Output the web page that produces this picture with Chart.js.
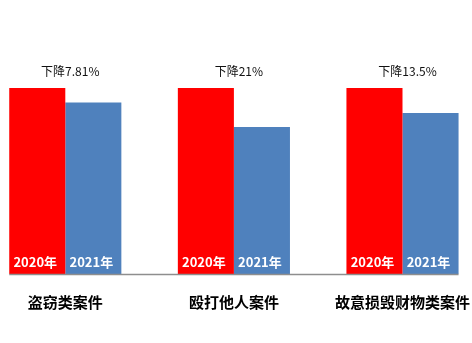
<!DOCTYPE html>
<html>
<head>
<meta charset="utf-8">
<script src="https://cdn.jsdelivr.net/npm/chart.js@4/dist/chart.umd.min.js"></script>
<style>
  html, body { margin: 0; padding: 0; background: #ffffff; overflow: hidden; }
  body { width: 472px; height: 343px; position: relative; }
  #wrap { position: absolute; left: -19px; top: 0; width: 508px; height: 343px; }
</style>
</head>
<body>
<div id="wrap"><canvas id="chart" width="508" height="343"></canvas></div>
<script>
// Case categories along the x axis
const categories = ['盗窃类案件', '殴打他人案件', '故意损毁财物类案件'];
// Series names, printed inside the foot of each bar
const seriesNames = ['2020年', '2021年'];
// Case counts indexed to 2020 = 100
const values2020 = [100, 100, 100];
const values2021 = [92.19, 79, 86.5];
// Year-on-year decrease, in percent
const drops = [7.81, 21, 13.5];
const dropLabels = ['下降7.81%', '下降21%', '下降13.5%'];

const CJK = '"Noto Sans CJK SC", "Noto Sans", sans-serif';

// Draws the baseline, the year names inside the bars and the decrease notes
const annotate = {
  id: 'annotate',
  afterDatasetsDraw(chart) {
    const ctx = chart.ctx;
    const x = chart.scales.x, y = chart.scales.y;
    const m0 = chart.getDatasetMeta(0).data;
    const m1 = chart.getDatasetMeta(1).data;
    const base = y.getPixelForValue(0);

    ctx.save();
    // baseline across the bar groups
    const left = m0[0].x - m0[0].width / 2;
    const lastBar = m1[m1.length - 1];
    const right = lastBar.x + lastBar.width / 2;
    ctx.strokeStyle = '#8e8e8e';
    ctx.lineWidth = 1.5;
    ctx.beginPath();
    ctx.moveTo(left, Math.round(base) + 0.5);
    ctx.lineTo(right, Math.round(base) + 0.5);
    ctx.stroke();

    // series names inside the bars
    ctx.fillStyle = '#ffffff';
    ctx.font = 'bold 13px ' + CJK;
    ctx.textAlign = 'center';
    ctx.textBaseline = 'middle';
    [m0, m1].forEach((bars, d) => {
      bars.forEach(bar => {
        ctx.fillText(seriesNames[d], bar.x - 2, base - 12);
      });
    });

    // decrease notes above each group
    ctx.fillStyle = '#111111';
    ctx.font = '12px ' + CJK;
    categories.forEach((c, i) => {
      const top = y.getPixelForValue(Math.max(values2020[i], values2021[i]));
      ctx.fillText(dropLabels[i], x.getPixelForValue(i) + 5, top - 17);
    });
    ctx.restore();
  }
};

new Chart(document.getElementById('chart'), {
  type: 'bar',
  data: {
    labels: categories,
    datasets: [
      { label: seriesNames[0], data: values2020, backgroundColor: '#ff0000', borderWidth: 0 },
      { label: seriesNames[1], data: values2021, backgroundColor: '#4f81bd', borderWidth: 0 }
    ]
  },
  options: {
    responsive: false,
    animation: false,
    events: [],
    layout: { padding: { top: 88, left: 0, right: 0, bottom: 0 } },
    plugins: {
      legend: { display: false },
      title: { display: false },
      tooltip: { enabled: false }
    },
    datasets: {
      bar: { categoryPercentage: 0.665, barPercentage: 1 }
    },
    scales: {
      x: {
        grid: { display: false, drawTicks: false },
        border: { display: false },
        ticks: {
          color: '#000000',
          font: { family: CJK, size: 15, weight: 'bold' },
          padding: 19,
          maxRotation: 0,
          autoSkip: false
        },
        afterFit(scale) { scale.height = 69; }
      },
      y: {
        display: false,
        min: 0,
        max: 100
      }
    }
  },
  plugins: [annotate]
});
</script>
</body>
</html>
